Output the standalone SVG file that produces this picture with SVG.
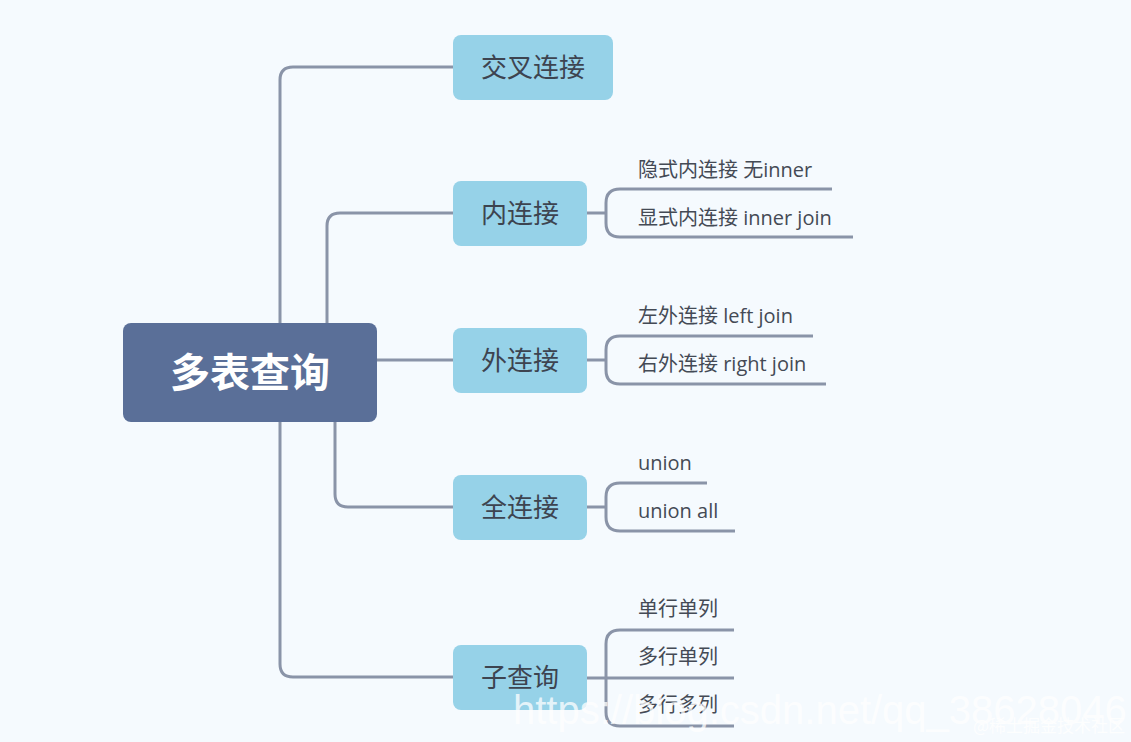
<svg xmlns="http://www.w3.org/2000/svg" width="1131" height="742" viewBox="0 0 1131 742">
<style>
.c{fill:none;stroke:#8a94a8;stroke-width:3}
.n{fill:#96d2e8}
.t{font-family:"Open Sans","Noto Sans CJK SC",sans-serif;font-size:26px;fill:#3d4450;text-anchor:middle}
.l{font-family:"Open Sans","Noto Sans CJK SC",sans-serif;font-size:20px;fill:#444a55}
</style>
<rect width="1131" height="742" fill="#f5fafe"/>
<g id="connectors">
<path class="c" d="M280,323 V80 Q280,67 293,67 H453"/>
<path class="c" d="M327,323 V226 Q327,213 340,213 H453"/>
<path class="c" d="M377,360 H453"/>
<path class="c" d="M335,422 V494 Q335,507 348,507 H453"/>
<path class="c" d="M280,422 V664 Q280,677 293,677 H453"/>
<path class="c" d="M587,213 H606 M832,189 H620 Q606,189 606,203 V223 Q606,237 620,237 H853"/>
<path class="c" d="M587,360 H606 M813,336 H620 Q606,336 606,350 V370 Q606,384 620,384 H826"/>
<path class="c" d="M587,507 H606 M707,483 H620 Q606,483 606,497 V517 Q606,531 620,531 H735"/>
<path class="c" d="M587,678 H734 M734,630 H620 Q606,630 606,644 V712 Q606,726 620,726 H734"/>
</g>
<g id="root"><rect x="123" y="323" width="254" height="99" rx="8" fill="#5a6f98"/>
<text x="250" y="387" font-family="'Noto Sans CJK SC',sans-serif" font-size="40" font-weight="bold" fill="#fff" text-anchor="middle">多表查询</text></g>
<g id="n1"><rect class="n" x="453" y="35" width="160" height="65" rx="8"/><text class="t" x="533" y="77">交叉连接</text></g>
<g id="n2"><rect class="n" x="453" y="181" width="134" height="65" rx="8"/><text class="t" x="520" y="223">内连接</text></g>
<g id="n3"><rect class="n" x="453" y="328" width="134" height="65" rx="8"/><text class="t" x="520" y="370">外连接</text></g>
<g id="n4"><rect class="n" x="453" y="475" width="134" height="65" rx="8"/><text class="t" x="520" y="517">全连接</text></g>
<g id="n5"><rect class="n" x="453" y="645" width="134" height="65" rx="8"/><text class="t" x="520" y="687">子查询</text></g>
<g id="leaves">
<text class="l" x="638" y="177">隐式内连接 无inner</text>
<text class="l" x="638" y="225">显式内连接 inner join</text>
<text class="l" x="638" y="323">左外连接 left join</text>
<text class="l" x="638" y="371">右外连接 right join</text>
<text class="l" x="638" y="470">union</text>
<text class="l" x="638" y="518">union all</text>
<text class="l" x="638" y="616">单行单列</text>
<text class="l" x="638" y="664">多行单列</text>
<text class="l" x="638" y="712">多行多列</text>
</g>
<text x="513" y="724" font-family="'Liberation Sans',sans-serif" font-size="40" fill="#ffffff" fill-opacity="0.75">https://blog.csdn.net/qq_38628046</text>
<text x="1125" y="732" font-family="'Noto Sans CJK SC',sans-serif" font-size="17" fill="#ffffff" fill-opacity="0.85" text-anchor="end">@稀土掘金技术社区</text>
</svg>
